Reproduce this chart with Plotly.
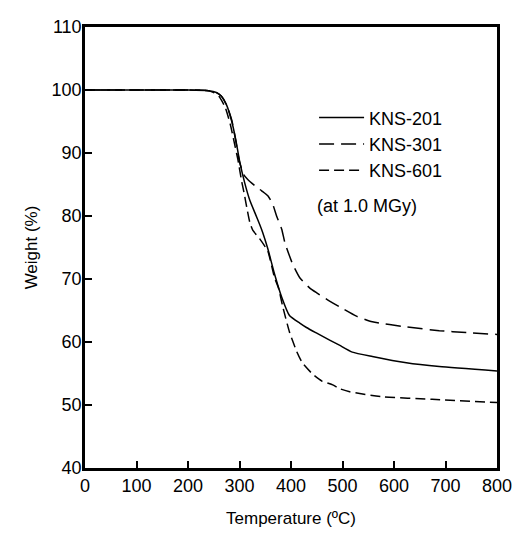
import plotly.graph_objects as go

# KNS-201 (solid)
t_201 = [0, 100, 200, 240, 255, 265, 275, 285, 293, 300, 310, 320, 330, 339, 345, 355, 368, 382, 397, 417, 430, 450, 475, 494, 519, 558, 624, 688, 800]
w_201 = [100, 100, 100, 99.9, 99.6, 99.0, 97.6, 95.0, 92.0, 88.8, 85.3, 82.5, 80.5, 78.7, 77.4, 74.8, 70.8, 67.1, 64.2, 63.0, 62.3, 61.4, 60.3, 59.5, 58.4, 57.7, 56.7, 56.1, 55.4]

# KNS-301 (long dash, upper)
t_301 = [0, 100, 200, 240, 255, 265, 275, 285, 293, 300, 308, 316, 330, 343, 355, 364, 372, 382, 388, 403, 417, 436, 450, 471, 494, 527, 558, 624, 688, 740, 800]
w_301 = [100, 100, 100, 99.9, 99.6, 99.0, 97.6, 95.2, 91.8, 88.6, 86.6, 85.8, 84.8, 84.0, 83.2, 82.0, 80.0, 77.9, 75.8, 72.4, 70.2, 68.6, 67.8, 66.7, 65.6, 64.1, 63.2, 62.4, 61.8, 61.5, 61.2]

# KNS-601 (short dash, lower)
t_601 = [0, 100, 200, 235, 250, 260, 272, 282, 290, 297, 304, 310, 314, 320, 326, 339, 355, 368, 376, 384, 397, 411, 422, 442, 460, 481, 494, 514, 578, 674, 800]
w_601 = [100, 100, 100, 99.9, 99.6, 99.0, 97.3, 94.6, 91.6, 88.9, 85.6, 83.2, 81.4, 79.0, 77.7, 76.4, 74.4, 70.2, 68.5, 65.6, 61.6, 58.5, 56.7, 54.9, 53.8, 53.2, 52.6, 52.1, 51.3, 50.9, 50.4]

x_ticks = [0, 100, 200, 300, 400, 500, 600, 700, 800]
y_ticks = [40, 50, 60, 70, 80, 90, 100, 110]

series = [
    ("KNS-201", t_201, w_201, "solid"),
    ("KNS-301", t_301, w_301, "15px,7px"),
    ("KNS-601", t_601, w_601, "10px,5px"),
]

fig = go.Figure()
for name, xs, ys, dash in series:
    fig.add_trace(go.Scatter(
        x=xs, y=ys, mode="lines", name=name, legendgroup=name,
        line=dict(color="black", width=1.5, dash=dash, shape="spline", smoothing=0.5),
    ))

font = "Arial, Liberation Sans, sans-serif"
fig.update_layout(
    width=513, height=526,
    margin=dict(l=77, r=23, t=9, b=65),
    paper_bgcolor="white", plot_bgcolor="white",
    font=dict(family=font, color="black", size=17),
    showlegend=True,
    legend=dict(
        x=0.556, y=0.836, xanchor="left", yanchor="top",
        bgcolor="rgba(0,0,0,0)", borderwidth=0,
        font=dict(size=18, family=font, color="black"),
        tracegroupgap=0, itemwidth=45,
    ),
    xaxis=dict(
        range=[0, 800], tickvals=x_ticks, ticktext=[str(v) for v in x_ticks],
        showline=True, linecolor="black", linewidth=2.5, mirror=True,
        ticks="inside", ticklen=7, tickwidth=1.5, tickcolor="black",
        showgrid=False, zeroline=False,
        tickfont=dict(size=18),
        title=dict(text="Temperature (ºC)", font=dict(size=17), standoff=17),
    ),
    yaxis=dict(
        range=[40, 110], tickvals=y_ticks, ticktext=[str(v) for v in y_ticks],
        showline=True, linecolor="black", linewidth=2.5, mirror=True,
        ticks="inside", ticklen=7, tickwidth=1.5, tickcolor="black",
        showgrid=False, zeroline=False,
        tickfont=dict(size=18), ticklabelstandoff=-3,
        title=dict(text="Weight (%)", font=dict(size=17), standoff=10),
    ),
    annotations=[dict(
        text="(at 1.0 MGy)", x=0.685, y=0.593, xref="paper", yref="paper",
        showarrow=False, font=dict(size=18, family=font, color="black"),
        xanchor="center", yanchor="middle",
    )],
)

fig.write_html("out.html")
